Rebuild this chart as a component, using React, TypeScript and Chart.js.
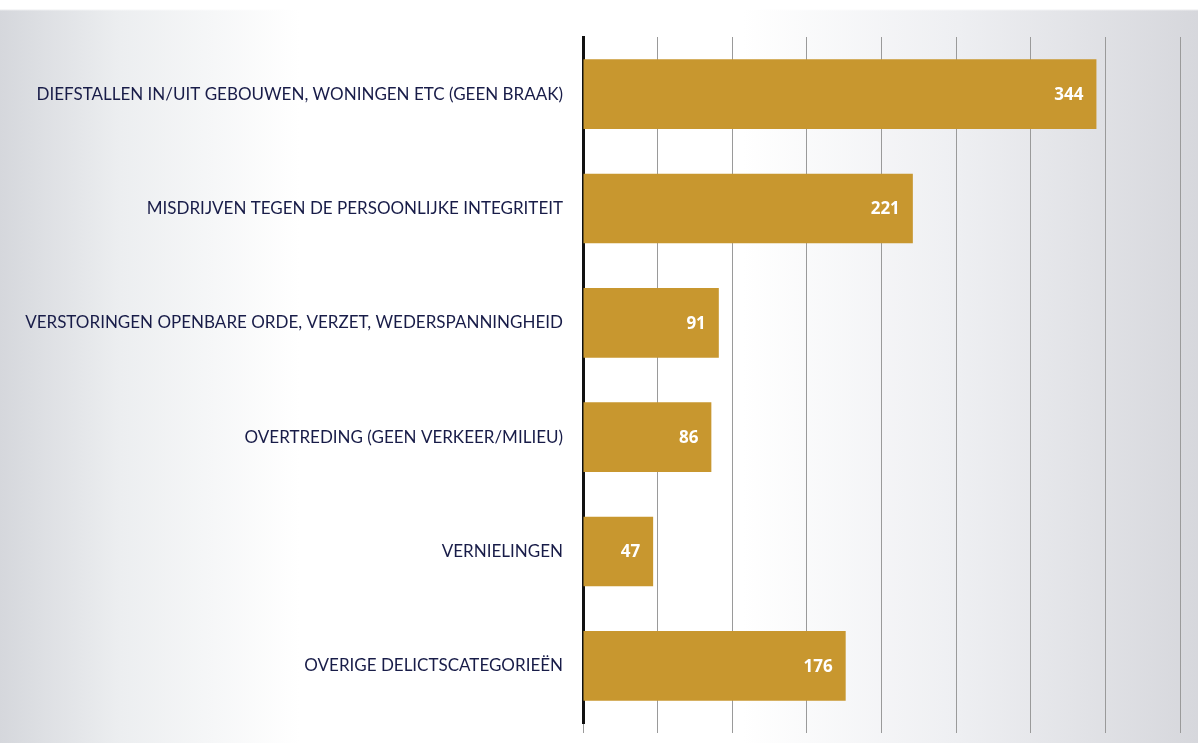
import React, { useEffect, useRef } from "react";
import { Chart, registerables } from "chart.js";

Chart.register(...registerables);

const categories = [
  "DIEFSTALLEN IN/UIT GEBOUWEN, WONINGEN ETC (GEEN BRAAK)",
  "MISDRIJVEN TEGEN DE PERSOONLIJKE INTEGRITEIT",
  "VERSTORINGEN OPENBARE ORDE, VERZET, WEDERSPANNINGHEID",
  "OVERTREDING (GEEN VERKEER/MILIEU)",
  "VERNIELINGEN",
  "OVERIGE DELICTSCATEGORIEËN",
];
const values = [344, 221, 91, 86, 47, 176];
const axisMax = 400;
const axisStep = 50;

const valueLabelPlugin = {
  id: "valueLabels",
  afterDatasetsDraw(chart: any) {
    const ctx = chart.ctx;
    const meta = chart.getDatasetMeta(0);
    ctx.save();
    ctx.fillStyle = "#ffffff";
    ctx.font = "bold 17px 'Open Sans', sans-serif";
    ctx.textAlign = "right";
    ctx.textBaseline = "middle";
    meta.data.forEach((bar: any, i: number) => {
      ctx.fillText(String(values[i]), bar.x - 13, bar.y + 1);
    });
    ctx.restore();
  },
};

export default function App() {
  const ref = useRef<HTMLCanvasElement>(null);
  useEffect(() => {
    if (!ref.current) return;
    const chart = new Chart(ref.current, {
      type: "bar",
      data: {
        labels: categories,
        datasets: [
          {
            data: values,
            backgroundColor: "#C8972F",
            barPercentage: 0.61,
            categoryPercentage: 1,
          },
        ],
      },
      options: {
        indexAxis: "y",
        animation: false,
        responsive: true,
        maintainAspectRatio: false,
        layout: { padding: { left: 0, right: 18, top: 37, bottom: 10 } },
        plugins: { legend: { display: false }, tooltip: { enabled: false } },
        scales: {
          x: {
            min: 0,
            max: axisMax,
            ticks: { display: false, stepSize: axisStep },
            grid: {
              color: "#9a9a9a",
              lineWidth: 1,
              drawTicks: true,
              tickLength: 10,
            },
            border: { display: false },
            afterFit(scale: any) {
              scale.height = 10;
              scale.paddingLeft = 0;
              scale.paddingRight = 0;
            },
          },
          y: {
            ticks: {
              color: "#181c48",
              font: { family: "Lato, 'Open Sans', sans-serif", size: 17 },
              padding: 12,
            },
            grid: { display: false },
            border: { display: true, color: "#111111", width: 3 },
            afterFit(scale: any) {
              scale.width = 583;
              scale.paddingTop = 0;
              scale.paddingBottom = 0;
            },
          },
        },
      },
      plugins: [valueLabelPlugin],
    });
    return () => chart.destroy();
  }, []);
  return (
    <div
      style={{
        position: "fixed",
        left: 0,
        top: 0,
        width: 1198,
        height: 743,
        background:
          "linear-gradient(to bottom, #ffffff 0px, #ffffff 9px, transparent 11px), linear-gradient(to right, #d5d7dc 0%, #eceef0 10%, #ffffff 25%, #ffffff 62%, #eeeff2 80%, #d6d7dc 100%)",
      }}
    >
      <canvas ref={ref} />
    </div>
  );
}
